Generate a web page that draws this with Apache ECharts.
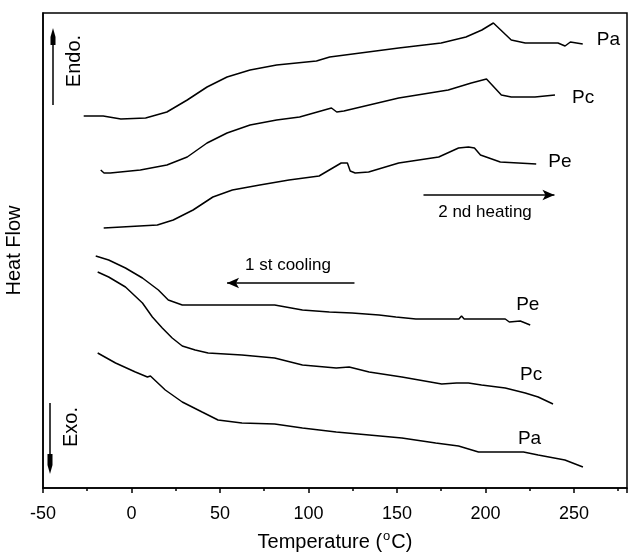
<!DOCTYPE html>
<html>
<head>
<meta charset="UTF-8">
<title>DSC</title>
<script src="https://cdn.jsdelivr.net/npm/echarts@6/dist/echarts.min.js"></script>
<style>
  html, body { margin: 0; padding: 0; background: #fff; }
  #chart { width: 628px; height: 553px; }
</style>
</head>
<body>
<div id="chart"></div>
<script>
// temperature (°C), heat flow (arbitrary units, up = endo)
var heatPa = [[-27,372],[-16,372],[-6,369],[8,370],[20,376],[31.5,388],[42.7,401],[54,411],[67,418],[82,423],[104.5,427],[112,431],[151,440],[175,445],[189,451],[198,458],[204.5,465],[214.6,448],[222.5,445],[241,445],[245,442],[248,446],[255,444]];
var heatPc = [[-17.4,318],[-15.5,315],[-12,315],[5,318],[20,323],[31.5,331],[42.7,345],[54,355],[67,363],[82,368],[95,371],[109,378],[113,380],[116,376],[120,377],[151,390],[179,398],[192,405],[200.6,409],[209,393],[214.6,391],[228,391],[239.3,393]];
var heatPe = [[-15.7,260],[14.6,263],[23.6,268],[34.8,278],[46,291],[57,298],[72.5,303],[89,308],[106,312],[118.5,325],[122,325],[123.6,317],[126.4,315],[134,316],[151,325],[173.6,331],[184.8,340],[190.4,341],[193.8,340],[197.2,333],[208.4,326],[228.7,324]];
var coolPe = [[-20.2,232],[-12.9,228],[-3.4,220],[6.2,210],[15.2,198],[20.8,188],[28.7,183],[55.6,183],[80.9,183],[96.6,178],[111.8,176],[124.7,175],[139.9,173],[149.4,171],[160.7,169],[185,169],[186.5,172],[188,169],[211.2,169],[213.5,166],[219.7,167],[225.3,163]];
var coolPc = [[-19.1,216],[-12.9,211],[-3.4,201],[6.2,185],[11.8,171],[17.4,160],[23,150],[28.7,142],[36,138],[43.3,135],[62.4,133],[80.9,130],[96.6,123],[115.7,120],[123,121],[134.3,116],[152.8,111],[175.3,104],[183.7,105],[190.4,105],[197.8,103],[211.2,100],[222.5,95],[229.8,91],[238.2,84]];
var coolPa = [[-19.1,135],[-9,125],[2.2,116],[9,111],[10.7,112],[19.1,98],[28.7,86],[39.9,76],[48.9,68],[62.4,65],[80.9,64],[96.6,60],[115.7,56],[134.3,53],[152.8,50],[171.9,45],[184.8,42],[196.1,36],[219.1,36],[220.2,38],[221.5,36],[229.8,33],[244.9,28],[255.1,21]];

var FONT = 'Liberation Sans';

function curve(data, name, offset) {
  return {
    type: 'line',
    data: data,
    symbol: 'none',
    silent: true,
    lineStyle: { color: '#000', width: 1.5 },
    endLabel: {
      show: true,
      formatter: function () { return name; },
      offset: offset,
      color: '#000',
      fontSize: 19,
      fontFamily: FONT
    }
  };
}

var series = [
  curve(heatPa, 'Pa', [6, -4]),
  curve(heatPc, 'Pc', [9, 3]),
  curve(heatPe, 'Pe', [4, -2]),
  curve(coolPe, 'Pe', [-22, -20]),
  curve(coolPc, 'Pc', [-41, -29]),
  curve(coolPa, 'Pa', [-73, -28])
];

// direction arrows
series[0].markLine = {
  silent: true,
  symbol: ['none', 'arrow'],
  symbolSize: [8, 12],
  label: { show: false },
  lineStyle: { color: '#000', width: 1.5, type: 'solid' },
  data: [
    [{ coord: [165, 293] }, { coord: [239, 293] }],
    [{ coord: [126, 205] }, { coord: [54, 205] }]
  ]
};

var chart = echarts.init(document.getElementById('chart'));
chart.setOption({
  animation: false,
  backgroundColor: '#fff',
  grid: {
    left: 43, right: 1, top: 13, bottom: 65,
    containLabel: false, outerBoundsMode: 'none',
    show: true, borderColor: '#000', borderWidth: 1.5
  },
  xAxis: {
    type: 'value',
    min: -50,
    max: 280,
    interval: 50,
    name: '{a|Temperature (}{s|o}{a|C)}',
    nameLocation: 'middle',
    nameGap: 42,
    nameTextStyle: {
      rich: {
        a: { fontSize: 20, fontFamily: FONT, color: '#000' },
        s: { fontSize: 13, fontFamily: FONT, color: '#000', verticalAlign: 'top', padding: [0, 1, 11, 1] }
      }
    },
    axisLine: { onZero: false, lineStyle: { color: '#000', width: 1.5 } },
    axisTick: { inside: false, length: 5, lineStyle: { color: '#000', width: 1.5 } },
    minorTick: { show: true, splitNumber: 2, length: 3, lineStyle: { color: '#000', width: 1.5 } },
    axisLabel: { color: '#000', fontSize: 18, fontFamily: FONT, margin: 17, showMaxLabel: false },
    splitLine: { show: false }
  },
  yAxis: {
    type: 'value',
    min: 0,
    max: 475,
    name: 'Heat Flow',
    nameLocation: 'middle',
    nameGap: 19,
    nameTextStyle: { fontSize: 20, fontFamily: FONT, color: '#000' },
    axisLine: { show: true, onZero: false, lineStyle: { color: '#000', width: 1.5 } },
    axisTick: { show: false },
    axisLabel: { show: false },
    splitLine: { show: false }
  },
  graphic: [
    { type: 'line', shape: { x1: 53, y1: 105, x2: 53, y2: 32 }, style: { stroke: '#000', lineWidth: 1.5 } },
    { type: 'polygon', shape: { points: [[53, 28], [50.5, 37], [50.5, 45], [55.5, 45], [55.5, 37]] }, style: { fill: '#000' } },
    { type: 'text', x: 74, y: 61, rotation: Math.PI / 2,
      style: { text: 'Endo.', font: '20px "Liberation Sans"', fill: '#000', textAlign: 'center', textVerticalAlign: 'middle' } },
    { type: 'line', shape: { x1: 50, y1: 403, x2: 50, y2: 470 }, style: { stroke: '#000', lineWidth: 1.5 } },
    { type: 'polygon', shape: { points: [[50, 474], [47.5, 465], [47.5, 454], [52.5, 454], [52.5, 465]] }, style: { fill: '#000' } },
    { type: 'text', x: 71, y: 427, rotation: Math.PI / 2,
      style: { text: 'Exo.', font: '20px "Liberation Sans"', fill: '#000', textAlign: 'center', textVerticalAlign: 'middle' } },
    { type: 'text', x: 485, y: 212,
      style: { text: '2 nd heating', font: '17px "Liberation Sans"', fill: '#000', textAlign: 'center', textVerticalAlign: 'middle' } },
    { type: 'text', x: 288, y: 265,
      style: { text: '1 st cooling', font: '17px "Liberation Sans"', fill: '#000', textAlign: 'center', textVerticalAlign: 'middle' } }
  ],
  series: series
});
</script>
</body>
</html>
